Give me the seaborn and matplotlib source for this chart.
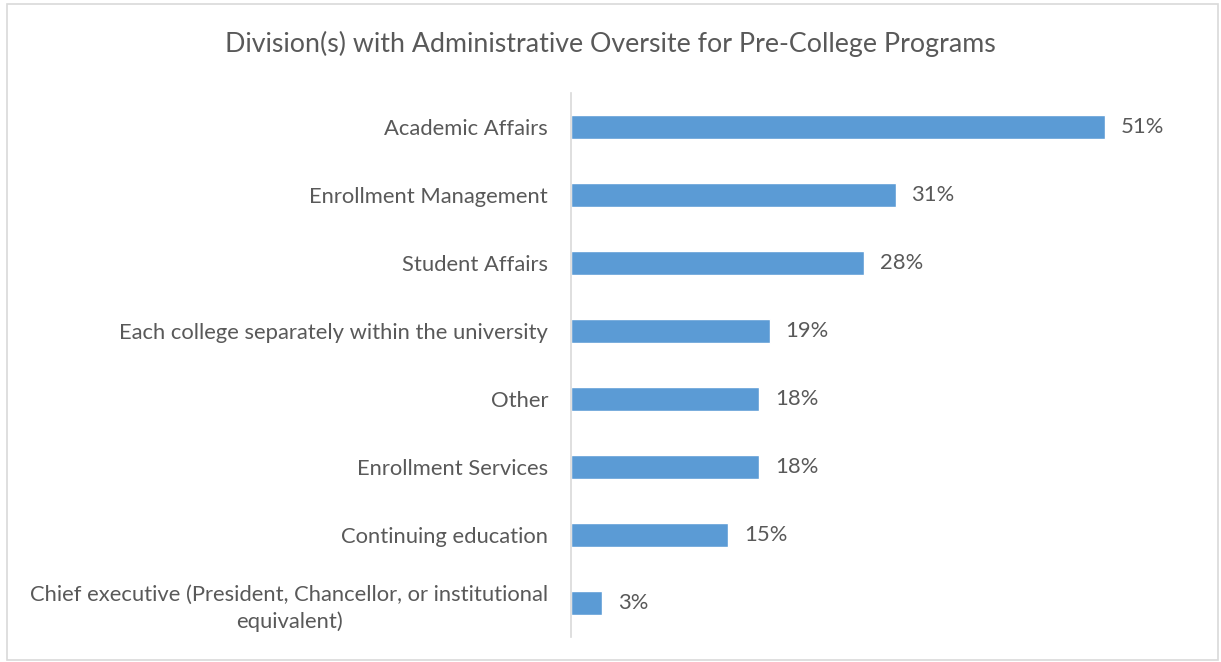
import matplotlib
matplotlib.use("Agg")
import matplotlib.pyplot as plt
import seaborn as sns
import pandas as pd
from matplotlib.patches import Rectangle

# data
categories = [
    "Academic Affairs",
    "Enrollment Management",
    "Student Affairs",
    "Each college separately within the university",
    "Other",
    "Enrollment Services",
    "Continuing education",
    "Chief executive (President, Chancellor, or institutional\nequivalent)",
]
values = [51, 31, 28, 19, 18, 18, 15, 3]

df = pd.DataFrame({"division": categories, "pct": values})

sns.set_style("white")
plt.rcParams["font.family"] = ["Lato", "DejaVu Sans"]
text_color = "#595959"
bar_color = "#5B9BD5"

fig = plt.figure(figsize=(12.21, 6.62), dpi=100)
ax = fig.add_axes([571 / 1221, 1 - 637 / 662, (1190 - 571) / 1221, 544 / 662])

sns.barplot(data=df, x="pct", y="division", color=bar_color, width=0.35,
            saturation=1, ax=ax, orient="h")

ax.set_xlim(0, (1190 - 571) / 10.47)
ax.set_ylim(len(categories) - 0.5, -0.5)
ax.set_xlabel("")
ax.set_ylabel("")
ax.set_xticks([])
for s in ["top", "right", "bottom"]:
    ax.spines[s].set_visible(False)
ax.spines["left"].set_color("#D9D9D9")
ax.spines["left"].set_linewidth(1.2)
ax.tick_params(axis="y", length=0, pad=16.5, labelsize=15.8, labelcolor=text_color)
for lbl in ax.get_yticklabels():
    lbl.set_multialignment("center")
    lbl.set_linespacing(1.4)

for i, v in enumerate(values):
    ax.text(v + 1.5, i, f"{v}%", va="center", ha="left", fontsize=15.8, color=text_color)

fig.text(0.5, 1 - 44 / 662, "Division(s) with Administrative Oversite for Pre-College Programs",
         ha="center", va="center", fontsize=19.3, color=text_color)

fig.patches.append(Rectangle((7 / 1221, 0.003), 1 - 10 / 1221, 1 - 6 / 662,
                             transform=fig.transFigure, fill=False,
                             edgecolor="#D9D9D9", linewidth=1.2))

fig.savefig("out.png", dpi=100, facecolor="white")
